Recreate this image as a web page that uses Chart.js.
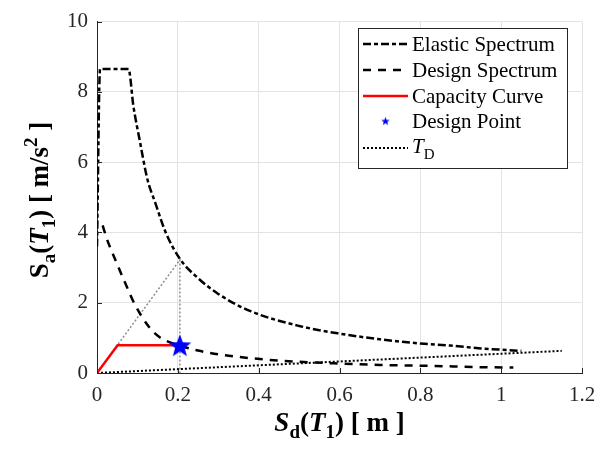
<!DOCTYPE html>
<html>
<head>
<meta charset="utf-8">
<script src="https://cdn.jsdelivr.net/npm/chart.js@4"></script>
<style>
  body { margin: 0; background: #fff; }
  #wrap { width: 613px; height: 451px; }
</style>
</head>
<body>
<div id="wrap"><canvas id="chart" width="613" height="451"></canvas></div>
<script>
// ——— DATA ———
const xTicks = [0, 0.2, 0.4, 0.6, 0.8, 1, 1.2];
const yTicks = [0, 2, 4, 6, 8, 10];

const elasticSd = [0, 0.0075, 0.078, 0.09, 0.106, 0.125, 0.144, 0.17, 0.205, 0.25, 0.3, 0.38, 0.5, 0.6, 0.7, 0.8, 0.874, 0.95, 1.05];
const elasticSa = [3.6, 8.65, 8.65, 7.6, 6.6, 5.5, 4.85, 4.0, 3.25, 2.7, 2.25, 1.76, 1.34, 1.12, 0.96, 0.84, 0.78, 0.70, 0.63];

const designSd = [0.014, 0.024, 0.045, 0.069, 0.094, 0.131, 0.156, 0.205, 0.25, 0.3, 0.41, 0.5, 0.6, 0.7, 0.837, 0.93, 1.03];
const designSa = [4.2, 3.83, 3.23, 2.58, 1.94, 1.28, 1.01, 0.78, 0.64, 0.53, 0.39, 0.32, 0.27, 0.23, 0.2, 0.17, 0.155];

const capacitySd = [0, 0.051, 0.205];
const capacitySa = [0, 0.79, 0.79];

const pointSd = [0.205];
const pointSa = [0.79];

const tdSd = [0, 1.15];
const tdSa = [0, 0.63];

const guideSd = [0, 0.205, 0.205];
const guideSa = [0, 3.22, 0];

const legendLabels = ['Elastic Spectrum', 'Design Spectrum', 'Capacity Curve', 'Design Point', 'T_D'];

const pts = (xs, ys) => xs.map((x, i) => ({ x, y: ys[i] }));

// ——— STYLE ———
const SERIF = '"Liberation Serif", "Times New Roman", serif';
const AXIS = '#262626';
const ELASTIC_DASH = [8, 3, 4, 3];
const DESIGN_DASH = [8, 7];
const TD_DASH = [2, 2];

function makeStar(r, color) {
    const c = document.createElement('canvas');
    const s = Math.ceil(r * 2 + 2);
    c.width = s; c.height = s;
    const g = c.getContext('2d');
    g.translate(s / 2, s / 2 + r * 0.1);
    g.beginPath();
    for (let i = 0; i < 10; i++) {
        const rad = i % 2 === 0 ? r : r * 0.42;
        const a = -Math.PI / 2 + i * Math.PI / 5;
        g.lineTo(rad * Math.cos(a), rad * Math.sin(a));
    }
    g.closePath();
    g.fillStyle = color;
    g.fill();
    return c;
}
const bigStar = makeStar(12, '#0000ff');
const smallStar = makeStar(4.5, '#0000ff');

// draws a run of text pieces [text, font, dy]
function drawPieces(g, pieces, x, y, align) {
    let total = 0;
    pieces.forEach(p => { g.font = p[1]; total += g.measureText(p[0]).width; });
    let cx = align === 'center' ? x - total / 2 : x;
    pieces.forEach(p => {
        g.font = p[1];
        g.fillText(p[0], cx, y + (p[2] || 0));
        cx += g.measureText(p[0]).width;
    });
}

// ——— PLUGIN: ticks inside, axis titles, legend ———
const decorations = {
    id: 'decorations',
    afterDatasetsDraw(chart) {
        const g = chart.ctx;
        const { left, right, top, bottom } = chart.chartArea;
        const xs = chart.scales.x, ys = chart.scales.y;
        g.save();
        g.strokeStyle = AXIS;
        g.lineWidth = 1;
        g.beginPath();
        xTicks.forEach(v => {
            const px = Math.round(xs.getPixelForValue(v)) + 0.5;
            g.moveTo(px, bottom); g.lineTo(px, bottom - 5);
        });
        yTicks.forEach(v => {
            const py = Math.round(ys.getPixelForValue(v)) + 0.5;
            g.moveTo(left, py); g.lineTo(left + 5, py);
        });
        g.stroke();
        g.restore();
    },
    afterDraw(chart) {
        const g = chart.ctx;
        const { left, right, top, bottom } = chart.chartArea;
        g.save();
        g.fillStyle = '#000';
        g.textBaseline = 'alphabetic';
        const B = 'bold 27px ' + SERIF, BI = 'italic bold 27px ' + SERIF, BS = 'bold 19px ' + SERIF;

        // x title
        drawPieces(g, [['S', BI], ['d', BS, 7], ['(', B], ['T', BI], ['1', BS, 7], [') [ m ]', B]],
            (left + right) / 2, 431, 'center');

        // y title
        g.save();
        g.translate(48, 200);
        g.rotate(-Math.PI / 2);
        drawPieces(g, [['S', B], ['a', BS, 7], ['(', B], ['T', BI], ['1', BS, 7], [') [ m/s', B], ['2', BS, -11], [' ]', B]],
            0, 0, 'center');
        g.restore();

        // legend
        const bx = 358.5, by = 28.5, bw = 209, bh = 140;
        g.fillStyle = '#fff';
        g.fillRect(bx, by, bw, bh);
        g.strokeStyle = AXIS;
        g.lineWidth = 1;
        g.strokeRect(bx, by, bw, bh);

        const rows = [44, 70, 96, 121, 148];
        const sx0 = 363, sx1 = 408, tx = 412;
        const lineRow = (y, color, width, dash) => {
            g.save();
            g.strokeStyle = color; g.lineWidth = width; g.setLineDash(dash);
            g.beginPath(); g.moveTo(sx0, y); g.lineTo(sx1, y); g.stroke();
            g.restore();
        };
        lineRow(rows[0], '#000', 2.5, ELASTIC_DASH);
        lineRow(rows[1], '#000', 2.5, DESIGN_DASH);
        lineRow(rows[2], '#ff0000', 2.5, []);
        g.drawImage(smallStar, (sx0 + sx1) / 2 - smallStar.width / 2, rows[3] - smallStar.height / 2);
        lineRow(rows[4], '#000', 2, TD_DASH);

        g.fillStyle = '#000';
        g.textBaseline = 'middle';
        const F = '21px ' + SERIF;
        for (let i = 0; i < 4; i++) {
            g.font = F;
            g.fillText(legendLabels[i], tx, rows[i] + 1);
        }
        const td = legendLabels[4].split('_');
        drawPieces(g, [[td[0], 'italic ' + F], [td[1], '15px ' + SERIF, 8]], tx, rows[4] - 1, 'left');
        g.restore();
    }
};

// ——— CHART ———
// lower "order" is drawn on top
const ctx = document.getElementById('chart').getContext('2d');
new Chart(ctx, {
    type: 'scatter',
    data: {
        datasets: [
            { order: 6, data: pts(guideSd, guideSa), showLine: true, borderColor: '#8c8c8c', borderWidth: 1.5, borderDash: [2, 2], pointRadius: 0 },
            { order: 5, data: pts(tdSd, tdSa), showLine: true, borderColor: '#000', borderWidth: 2, borderDash: TD_DASH, pointRadius: 0 },
            { order: 4, data: pts(elasticSd, elasticSa), showLine: true, borderColor: '#000', borderWidth: 2.5, borderDash: ELASTIC_DASH, pointRadius: 0, cubicInterpolationMode: 'monotone' },
            { order: 3, data: pts(designSd, designSa), showLine: true, borderColor: '#000', borderWidth: 2.5, borderDash: DESIGN_DASH, pointRadius: 0, cubicInterpolationMode: 'monotone' },
            { order: 2, data: pts(capacitySd, capacitySa), showLine: true, borderColor: '#ff0000', borderWidth: 2.5, pointRadius: 0 },
            { order: 1, data: pts(pointSd, pointSa), showLine: false, pointStyle: bigStar, pointRadius: 12 }
        ]
    },
    options: {
        responsive: false,
        animation: false,
        layout: { padding: { top: 13, right: 31, left: 0, bottom: 0 } },
        plugins: { legend: { display: false }, tooltip: { enabled: false } },
        scales: {
            x: {
                type: 'linear', min: 0, max: 1.2,
                afterFit: s => { s.height = 78; },
                afterBuildTicks: s => { s.ticks = xTicks.map(v => ({ value: v })); },
                grid: { color: '#e3e3e3', drawTicks: false },
                border: { display: true, color: AXIS, width: 1 },
                ticks: { color: AXIS, padding: 10, maxRotation: 0, font: { family: SERIF, size: 21 }, callback: v => String(+v.toFixed(1)) }
            },
            y: {
                type: 'linear', min: 0, max: 10,
                afterFit: s => { s.width = 97; },
                afterBuildTicks: s => { s.ticks = yTicks.map(v => ({ value: v })); },
                grid: { color: '#e3e3e3', drawTicks: false },
                border: { display: true, color: AXIS, width: 1 },
                ticks: { color: AXIS, padding: 9, font: { family: SERIF, size: 21 }, callback: v => String(v) }
            }
        }
    },
    plugins: [decorations]
});
</script>
</body>
</html>
